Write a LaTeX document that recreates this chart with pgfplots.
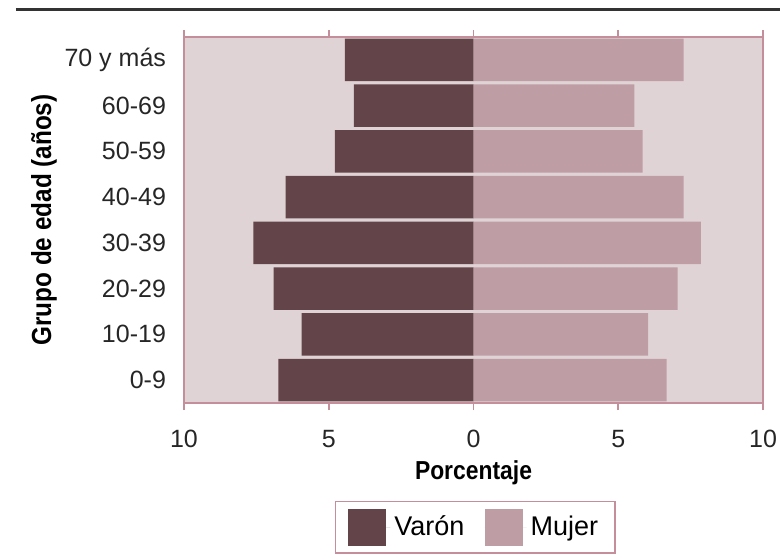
\documentclass[border=0pt]{standalone}
\usepackage{fontspec}
\setmainfont{Liberation Sans}
\newfontfamily\narrowbold{Liberation Sans}[FakeStretch=0.88]
\usepackage{pgfplots}
\pgfplotsset{compat=1.18}
\definecolor{varon}{HTML}{634448}
\definecolor{mujer}{HTML}{BF9DA5}
\definecolor{bgpink}{HTML}{DFD3D6}
\definecolor{axpink}{HTML}{C48E9B}
\begin{document}
\begin{tikzpicture}
\useasboundingbox (-92pt,-78pt) rectangle (298pt,201.5pt);
\draw[line width=1.5pt, color=black!80] (-84pt,197pt) -- (298pt,197pt);
\begin{axis}[
  at={(0,0)}, anchor=south west,
  scale only axis,
  width=289.5pt, height=183pt,
  xbar, bar shift=0pt, bar width=0.93,
  xmin=-10, xmax=10,
  ymin=-0.5, ymax=7.5,
  xtick={-10,-5,0,5,10},
  xticklabels={10,5,0,5,10},
  ytick={0,1,2,3,4,5,6,7},
  yticklabels={0-9,10-19,20-29,30-39,40-49,50-59,60-69,70 y más},
  /pgf/number format/assume math mode=true,
  tick align=outside,
  major tick length=3.5pt,
  xtick style={draw=axpink, line width=0.8pt},
  ytick style={draw=none},
  axis line style={draw=axpink, line width=0.8pt},
  axis background/.style={fill=bgpink},
  ticklabel style={font=\fontsize{12.5}{14}\selectfont, text=black!85},
  xticklabel style={anchor=center, yshift=-14.5pt},
  yticklabel style={anchor=east, xshift=-2pt},
  xlabel={Porcentaje},
  ylabel={Grupo de edad (años)},
  every axis x label/.style={at={(rel axis cs:0.5,-0.19)}, anchor=center, font=\narrowbold\bfseries\fontsize{13}{15}\selectfont},
  every axis y label/.style={at={(rel axis cs:-0.242,0.5)}, anchor=center, rotate=90, font=\narrowbold\bfseries\fontsize{13.8}{15}\selectfont},
  legend columns=2,
  legend style={at={(0.503,-0.267)}, anchor=north, draw=axpink, line width=0.8pt, fill=white,
    font=\fontsize{13.5}{15}\selectfont, inner xsep=6.5pt, inner ysep=3.5pt,
    /tikz/every even column/.append style={column sep=8pt}},
  legend image code/.code={\fill[#1] (0pt,-9.3pt) rectangle (19pt,9.3pt); \path (0pt,0pt) -- (21pt,0pt);},
]
\addplot[fill=varon, draw=none] coordinates {
  (-6.74,0) (-5.94,1) (-6.90,2) (-7.60,3) (-6.49,4) (-4.79,5) (-4.13,6) (-4.44,7)};
\addlegendentry{Varón}
\addplot[fill=mujer, draw=none] coordinates {
  (6.67,0) (6.03,1) (7.05,2) (7.85,3) (7.26,4) (5.84,5) (5.56,6) (7.26,7)};
\addlegendentry{Mujer\hspace{5pt}}
\end{axis}
\end{tikzpicture}
\end{document}
